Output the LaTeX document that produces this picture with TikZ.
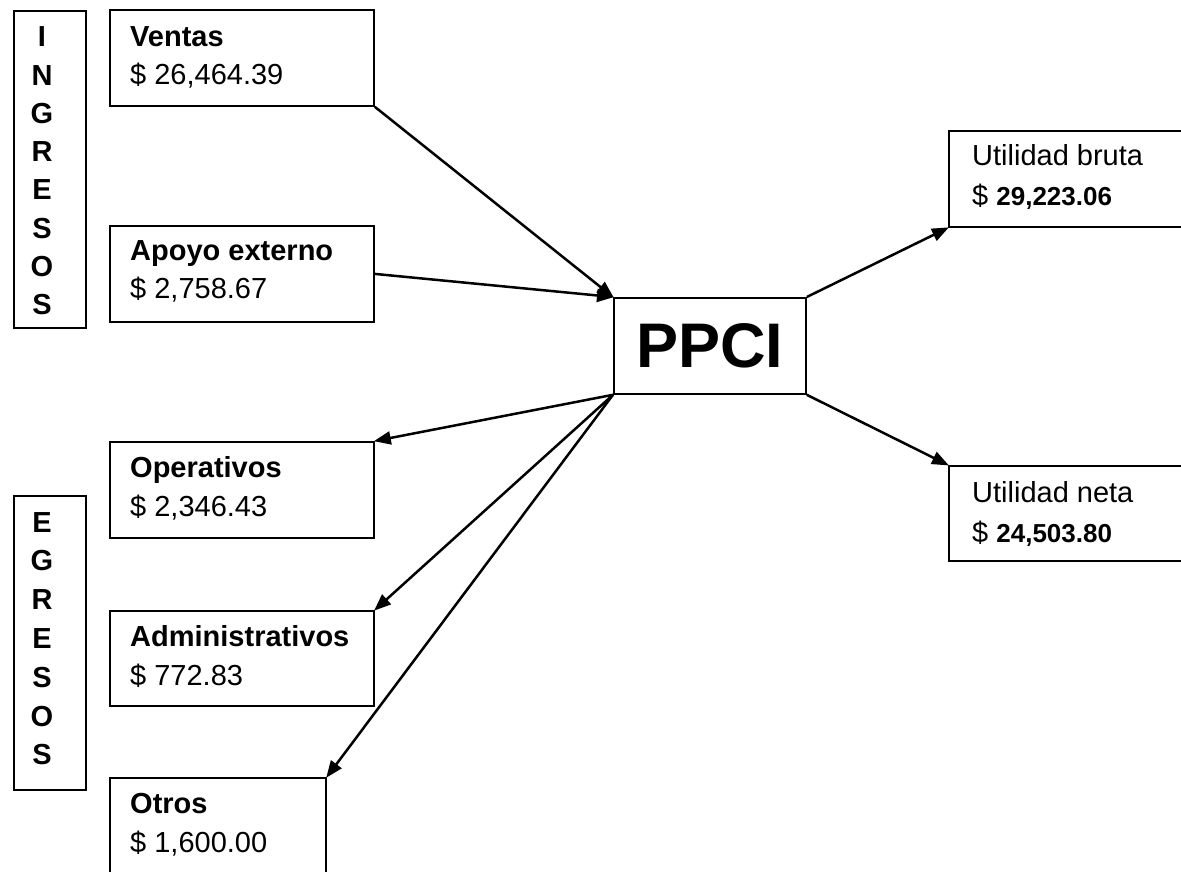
\documentclass[tikz,border=0pt]{standalone}
\usepackage{fontspec}
\setmainfont{Liberation Sans}
\usetikzlibrary{arrows.meta}
\tikzset{
  box/.style={draw, line width=1.8pt, inner sep=0pt, anchor=north west},
  txt/.style={inner sep=0pt, anchor=base west, font=\fontsize{29}{33}\selectfont},
  letter/.style={inner sep=0pt, anchor=base, font=\fontsize{29}{33}\selectfont\bfseries},
  arr/.style={line width=2.5pt, -{Triangle[length=17pt,width=13pt]}, shorten >=-1pt}
}
\begin{document}
\begin{tikzpicture}[x=1pt,y=-1pt]
\useasboundingbox (0,0) rectangle (1181,872);
\clip (0,0) rectangle (1181,872);
% side label boxes
\node[box, minimum width=72pt, minimum height=317pt] (ing) at (13,10) {};
\foreach \l [count=\i] in {I,N,G,R,E,S,O,S}
  \node[letter] (ing\i) at (42,{47+(\i-1)*38.2}) {\l};
\node[box, minimum width=72pt, minimum height=294pt] (egr) at (13,495) {};
\foreach \l [count=\i] in {E,G,R,E,S,O,S}
  \node[letter] (egr\i) at (42,{532+(\i-1)*38.8}) {\l};
% left boxes
\node[box, minimum width=264pt, minimum height=96pt] (ventas) at (109,9) {};
\node[txt] (ventasA) at (130,47) {\bfseries Ventas};
\node[txt] (ventasB) at (130,85) {\$ 26,464.39};
\node[box, minimum width=264pt, minimum height=96pt] (apoyo) at (109,225) {};
\node[txt] (apoyoA) at (130,260) {\bfseries Apoyo externo};
\node[txt] (apoyoB) at (130,298) {\$ 2,758.67};
\node[box, minimum width=264pt, minimum height=96pt] (oper) at (109,441) {};
\node[txt] (operA) at (130,477) {\bfseries Operativos};
\node[txt] (operB) at (130,516) {\$ 2,346.43};
\node[box, minimum width=264pt, minimum height=95pt] (admin) at (109,610) {};
\node[txt] (adminA) at (130,646) {\bfseries Administrativos};
\node[txt] (adminB) at (130,685) {\$ 772.83};
\node[box, minimum width=216pt, minimum height=120pt] (otros) at (109,777) {};
\node[txt] (otrosA) at (130,813) {\bfseries Otros};
\node[txt] (otrosB) at (130,852) {\$ 1,600.00};
% center
\node[box, minimum width=192pt, minimum height=96pt] (ppci) at (613,297) {};
\node[inner sep=0pt, font=\fontsize{63}{70}\selectfont\bfseries] (ppciT) at (ppci.center) {PPCI};
% right boxes
\node[box, minimum width=250pt, minimum height=96pt] (ubruta) at (948,130) {};
\node[txt] (ubrutaA) at (972,165) {Utilidad bruta};
\node[txt] (ubrutaB) at (972,205) {\$ {\fontsize{26}{30}\selectfont\bfseries 29,223.06}};
\node[box, minimum width=250pt, minimum height=95pt] (uneta) at (948,465) {};
\node[txt] (unetaA) at (972,502) {Utilidad neta};
\node[txt] (unetaB) at (972,542) {\$ {\fontsize{26}{30}\selectfont\bfseries 24,503.80}};
% connectors
\draw[arr] (ventas.south east) -- (ppci.north west);
\draw[arr] (apoyo.east) -- (ppci.north west);
\draw[arr] (ppci.south west) -- (oper.north east);
\draw[arr] (ppci.south west) -- (admin.north east);
\draw[arr] (ppci.south west) -- (otros.north east);
\draw[arr] (ppci.north east) -- (ubruta.south west);
\draw[arr] (ppci.south east) -- (uneta.north west);
\end{tikzpicture}
\end{document}
